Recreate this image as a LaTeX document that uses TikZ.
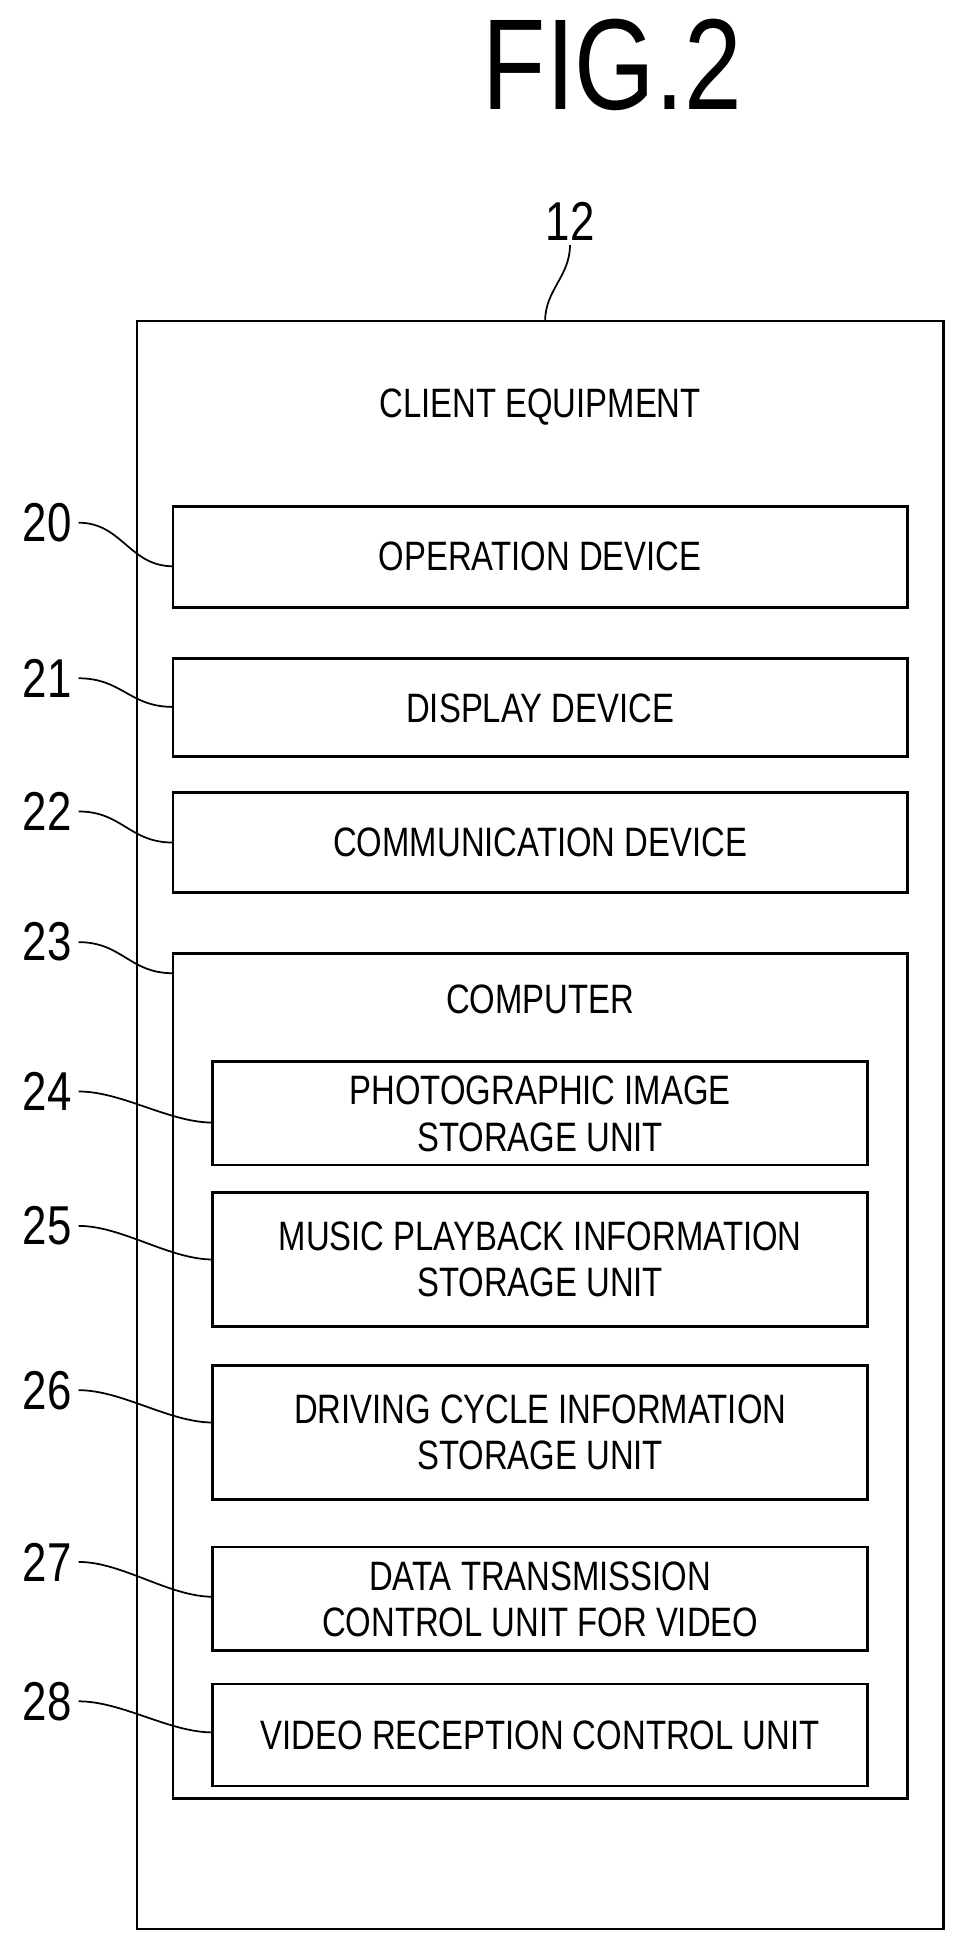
\documentclass[tikz,border=0pt]{standalone}
\usepackage{fontspec}
\setmainfont{Liberation Sans}[FakeStretch=0.8]
\usetikzlibrary{positioning, calc}

\tikzset{
  blk/.style={draw, line width=2.2pt, inner sep=0pt},
  txt/.style={font=\fontsize{33}{37}\selectfont, align=center},
  num/.style={font=\fontsize{44}{48}\selectfont},
  lead/.style={line width=1.4pt}
}

\begin{document}
\begin{tikzpicture}[x=1pt, y=-1pt]
  \useasboundingbox (0,0) rectangle (772,1558);

  %title
  \node[font=\fontsize{104}{108}\selectfont] (title) at (492,52) {FIG.2};

  %boxes
  \draw[blk] (110,258) rectangle (758,1550);
  \node[txt] (client) at (434,327) {CLIENT EQUIPMENT};

  \draw[blk] (139,407) rectangle (729,488);
  \node[txt] (b20) at (434,447) {OPERATION DEVICE};
  \draw[blk] (139,529) rectangle (729,608);
  \node[txt] (b21) at (434,569) {DISPLAY DEVICE};
  \draw[blk] (139,637) rectangle (729,717);
  \node[txt] (b22) at (434,677) {COMMUNICATION DEVICE};

  \draw[blk] (139,766) rectangle (729,1445);
  \node[txt] (b23) at (434,803) {COMPUTER};

  \draw[blk] (171,853) rectangle (697,936);
  \node[txt] (b24) at (434,895) {PHOTOGRAPHIC IMAGE\\STORAGE UNIT};
  \draw[blk] (171,958) rectangle (697,1066);
  \node[txt] (b25) at (434,1012) {MUSIC PLAYBACK INFORMATION\\STORAGE UNIT};
  \draw[blk] (171,1097) rectangle (697,1205);
  \node[txt] (b26) at (434,1151) {DRIVING CYCLE INFORMATION\\STORAGE UNIT};
  \draw[blk] (171,1243) rectangle (697,1326);
  \node[txt] (b27) at (434,1285) {DATA TRANSMISSION\\CONTROL UNIT FOR VIDEO};
  \draw[blk] (171,1353) rectangle (697,1435);
  \node[txt] (b28) at (434,1394) {VIDEO RECEPTION CONTROL UNIT};

  %labels
  \node[num] (l12) at (458,178) {12};
  \coordinate (e12) at (438,258);
  \draw[lead] (l12.south) .. controls +(0,25) and +(0,-25) .. (e12);

  \foreach \n/\ly/\ey/\ex in {20/420/455/139, 21/545/568/139, 22/652/677/139,
      23/757/782/139, 24/877/902/171, 25/985/1012/171, 26/1117/1143/171,
      27/1255/1283/171, 28/1367/1392/171} {
    \node[num] (l\n) at (38,\ly) {\n};
    \coordinate (e\n) at (\ex,\ey);
    \draw[lead] ($(l\n.east)+(2,0)$) .. controls +(35,0) and +(-35,0) .. (e\n);
  }
\end{tikzpicture}
\end{document}
